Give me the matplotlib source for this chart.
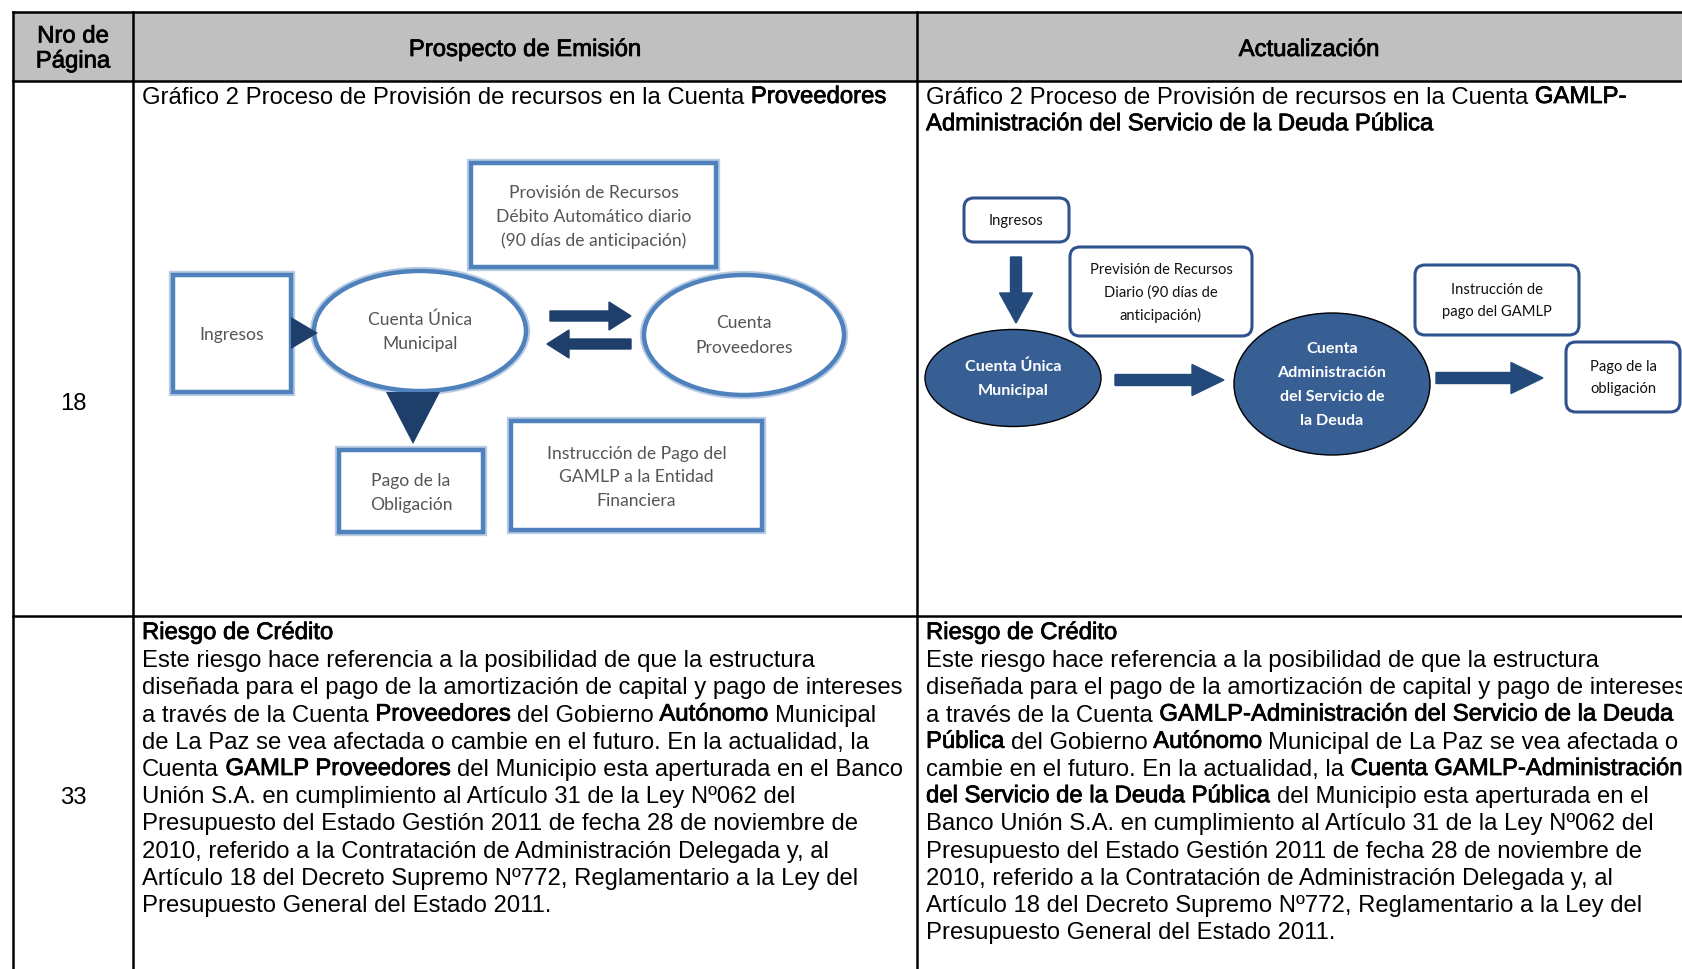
import matplotlib
matplotlib.use("Agg")
import matplotlib.pyplot as plt
from matplotlib.patches import Rectangle, Ellipse, FancyBboxPatch, Polygon, FancyArrow
from matplotlib.font_manager import FontProperties
import matplotlib.patheffects as pe

# ------------------------------------------------------------------ content
header_labels = ["Nro de\nPágina", "Prospecto de Emisión", "Actualización"]
page_numbers = ["18", "33"]

title_left = [
    [("Gráfico 2 Proceso de Provisión de recursos en la Cuenta ", False), ("Proveedores", True)],
]
title_right = [
    [("Gráfico 2 Proceso de Provisión de recursos en la Cuenta ", False), ("GAMLP-", True)],
    [("Administración del Servicio de la Deuda Pública", True)],
]

risk_left = [
    [("Riesgo de Crédito", True)],
    [("Este riesgo hace referencia a la posibilidad de que la estructura", False)],
    [("diseñada para el pago de la amortización de capital y pago de intereses", False)],
    [("a través de la Cuenta ", False), ("Proveedores", True), (" del Gobierno ", False),
     ("Autónomo", True), (" Municipal", False)],
    [("de La Paz se vea afectada o cambie en el futuro. En la actualidad, la", False)],
    [("Cuenta ", False), ("GAMLP Proveedores", True), (" del Municipio esta aperturada en el Banco", False)],
    [("Unión S.A. en cumplimiento al Artículo 31 de la Ley Nº062 del", False)],
    [("Presupuesto del Estado Gestión 2011 de fecha 28 de noviembre de", False)],
    [("2010, referido a la Contratación de Administración Delegada y, al", False)],
    [("Artículo 18 del Decreto Supremo Nº772, Reglamentario a la Ley del", False)],
    [("Presupuesto General del Estado 2011.", False)],
]
risk_right = [
    [("Riesgo de Crédito", True)],
    [("Este riesgo hace referencia a la posibilidad de que la estructura", False)],
    [("diseñada para el pago de la amortización de capital y pago de intereses", False)],
    [("a través de la Cuenta ", False), ("GAMLP-Administración del Servicio de la Deuda", True)],
    [("Pública", True), (" del Gobierno ", False), ("Autónomo", True),
     (" Municipal de La Paz se vea afectada o", False)],
    [("cambie en el futuro. En la actualidad, la ", False), ("Cuenta GAMLP-Administración", True)],
    [("del Servicio de la Deuda Pública", True), (" del Municipio esta aperturada en el", False)],
    [("Banco Unión S.A. en cumplimiento al Artículo 31 de la Ley Nº062 del", False)],
    [("Presupuesto del Estado Gestión 2011 de fecha 28 de noviembre de", False)],
    [("2010, referido a la Contratación de Administración Delegada y, al", False)],
    [("Artículo 18 del Decreto Supremo Nº772, Reglamentario a la Ley del", False)],
    [("Presupuesto General del Estado 2011.", False)],
]

left_boxes = ["Provisión de Recursos\nDébito Automático diario\n(90 días de anticipación)",
              "Ingresos", "Pago de la\nObligación",
              "Instrucción de Pago del\nGAMLP a la Entidad\nFinanciera"]
left_ellipses = ["Cuenta Única\nMunicipal", "Cuenta\nProveedores"]
right_boxes = ["Ingresos", "Previsión de Recursos\nDiario (90 días de\nanticipación)",
               "Instrucción de\npago del GAMLP", "Pago de la\nobligación"]
right_ellipses = ["Cuenta Única\nMunicipal", "Cuenta\nAdministración\ndel Servicio de\nla Deuda"]

# ------------------------------------------------------------------ figure
W, H = 1683, 970
fig = plt.figure(figsize=(W / 100, H / 100), dpi=100)
ax = fig.add_axes([0, 0, 1, 1])
ax.set_xlim(0, W)
ax.set_ylim(H, 0)
ax.axis("off")
renderer = fig.canvas.get_renderer()

main_fp = FontProperties(family="Liberation Sans", size=17.2)
STROKE = 0.55


def text_w(s, fp):
    if not s:
        return 0.0
    w, h, d = renderer.get_text_width_height_descent(s, fp, ismath=False)
    return w


def rich_line(x, y, segs, fp=main_fp, color="black"):
    prefix = ""
    for s, b in segs:
        stripped = s.lstrip(" ")
        lead = s[: len(s) - len(stripped)]
        pre = prefix + lead
        if pre:
            off = text_w(pre + stripped, fp) - text_w(stripped, fp)
        else:
            off = 0.0
        kw = {}
        if b:
            kw["path_effects"] = [pe.withStroke(linewidth=STROKE, foreground=color)]
        if stripped.strip():
            ax.text(x + off, y, stripped.rstrip(" "), fontproperties=fp, ha="left", va="center",
                    color=color, **kw)
        prefix += s


def lines_centered(x, y, text, fp, spacing, color, bold=False):
    parts = text.split("\n")
    n = len(parts)
    for i, p in enumerate(parts):
        yy = y + (i - (n - 1) / 2) * spacing
        kw = {}
        if bold:
            kw["path_effects"] = [pe.withStroke(linewidth=STROKE, foreground=color)]
        ax.text(x, yy, p, fontproperties=fp, ha="center", va="center", color=color, **kw)


# ------------------------------------------------------------------ table
L, C1, C2, R = 13, 133, 917, 1701
TOP, HDR, ROW, BOT = 13, 82, 617, 1000
ax.add_patch(Rectangle((L, TOP), R - L, HDR - TOP, facecolor="#c0c0c0", edgecolor="none", zorder=0))
lw_tab = 1.8
for yy in (TOP, HDR, ROW):
    ax.plot([L, R], [yy, yy], color="black", lw=lw_tab, solid_capstyle="projecting", zorder=5)
for xx in (L, C1, C2):
    ax.plot([xx, xx], [TOP, BOT], color="black", lw=lw_tab, solid_capstyle="projecting", zorder=5)

# headers
lines_centered((L + C1) / 2, 50, header_labels[0], main_fp, 25, "black", bold=True)
lines_centered((C1 + C2) / 2, 51, header_labels[1], main_fp, 25, "black", bold=True)
lines_centered((C2 + R) / 2, 51, header_labels[2], main_fp, 25, "black", bold=True)

# page numbers
ax.text((L + C1) / 2, 404, page_numbers[0], fontproperties=main_fp, ha="center", va="center")
ax.text((L + C1) / 2, 798, page_numbers[1], fontproperties=main_fp, ha="center", va="center")

# titles of graph row
LH = 27.2
for i, segs in enumerate(title_left):
    rich_line(C1 + 9, 98 + i * LH, segs)
for i, segs in enumerate(title_right):
    rich_line(C2 + 9, 98 + i * LH, segs)

# risk paragraphs
for i, segs in enumerate(risk_left):
    rich_line(C1 + 9, 634 + i * LH, segs)
for i, segs in enumerate(risk_right):
    rich_line(C2 + 9, 634 + i * LH, segs)

# ------------------------------------------------------------------ left diagram
blue_edge = "#4f81bd"
glow = "#b9cce4"
dark = "#1f3f6b"
grey_txt = "#555555"
ld_fp = FontProperties(family="Lato", size=12.6)


def plain_box(x0, y0, x1, y1):
    ax.add_patch(Rectangle((x0, y0), x1 - x0, y1 - y0, facecolor="white", edgecolor=glow,
                           lw=6, zorder=2))
    ax.add_patch(Rectangle((x0, y0), x1 - x0, y1 - y0, facecolor="white", edgecolor=blue_edge,
                           lw=3.2, zorder=3))


def plain_ellipse(cx, cy, w, h):
    ax.add_patch(Ellipse((cx, cy), w, h, facecolor="white", edgecolor=glow, lw=6, zorder=2))
    ax.add_patch(Ellipse((cx, cy), w, h, facecolor="white", edgecolor=blue_edge, lw=3.2, zorder=3))


box_geo = [(471, 164, 716, 268), (173, 276, 291, 393), (339, 451, 483, 533), (511, 422, 762, 531)]
for (x0, y0, x1, y1), lab in zip(box_geo, left_boxes):
    plain_box(x0, y0, x1, y1)
    lines_centered((x0 + x1) / 2, (y0 + y1) / 2 + 1, lab, ld_fp, 23.5, grey_txt)

ell_geo = [(420, 332, 212, 120), (744, 336, 200, 120)]
for (cx, cy, w, h), lab in zip(ell_geo, left_ellipses):
    plain_ellipse(cx, cy, w, h)
    lines_centered(cx, cy, lab, ld_fp, 25, grey_txt)

# triangles
ax.add_patch(Polygon([(291, 318), (291, 350), (318, 334)], closed=True, facecolor=dark,
                     edgecolor="none", zorder=4))
ax.add_patch(Polygon([(386, 393), (440, 393), (413, 445)], closed=True, facecolor=dark,
                     edgecolor="none", zorder=4))
# double arrows
ax.add_patch(FancyArrow(550, 317, 81, 0, width=10, head_width=28, head_length=22,
                        length_includes_head=True, color=dark, zorder=4))
ax.add_patch(FancyArrow(631, 345, -84, 0, width=10, head_width=28, head_length=22,
                        length_includes_head=True, color=dark, zorder=4))

# ------------------------------------------------------------------ right diagram
rb_edge = "#2f528f"
fill = "#375f93"
arrow_c = "#244a7c"
rd_fp = FontProperties(family="Lato", size=10.6)
rd_bfp = FontProperties(family="Lato", size=11.6, weight="bold")


def round_box(x0, y0, x1, y1):
    ax.add_patch(FancyBboxPatch((x0, y0), x1 - x0, y1 - y0,
                                boxstyle="round,pad=0,rounding_size=10",
                                facecolor="white", edgecolor=rb_edge, lw=2.2, zorder=3))


rbox_geo = [(964, 199, 1069, 243), (1070, 248, 1252, 337), (1415, 266, 1579, 336),
            (1566, 343, 1680, 413)]
for (x0, y0, x1, y1), lab in zip(rbox_geo, right_boxes):
    round_box(x0, y0, x1, y1)
    lines_centered((x0 + x1) / 2, (y0 + y1) / 2, lab, rd_fp, 22.5, "#111111")

rell_geo = [(1013, 379, 176, 97, 25), (1332, 385, 196, 142, 24)]
for (cx, cy, w, h, sp), lab in zip(rell_geo, right_ellipses):
    ax.add_patch(Ellipse((cx, cy), w, h, facecolor=fill, edgecolor="black", lw=1.0, zorder=3))
    lines_centered(cx, cy, lab, rd_bfp, sp, "white")

ax.add_patch(FancyArrow(1016, 258, 0, 66, width=11, head_width=33, head_length=30,
                        length_includes_head=True, color=arrow_c, zorder=4))
ax.add_patch(FancyArrow(1115, 381, 109, 0, width=11, head_width=31, head_length=32,
                        length_includes_head=True, color=arrow_c, zorder=4))
ax.add_patch(FancyArrow(1436, 379, 107, 0, width=11, head_width=31, head_length=32,
                        length_includes_head=True, color=arrow_c, zorder=4))

fig.savefig("out.png", dpi=100)
